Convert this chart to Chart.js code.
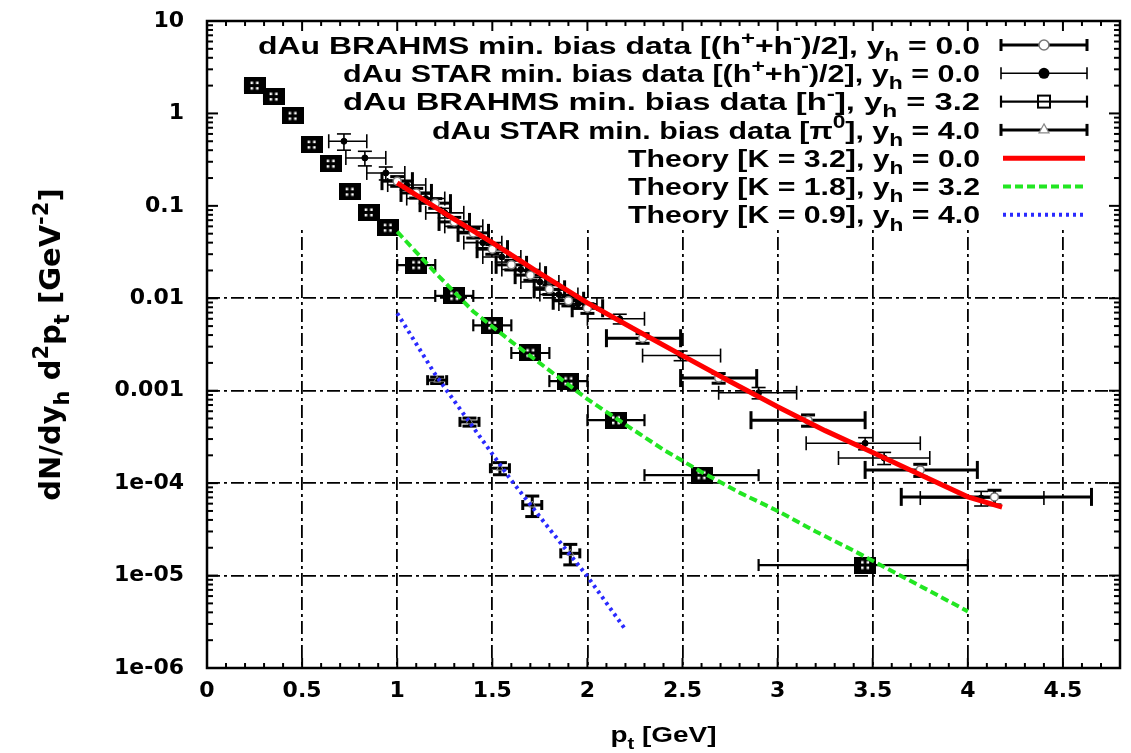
<!DOCTYPE html>
<html>
<head>
<meta charset="utf-8">
<title>dAu hadron spectra vs theory</title>
<script src="https://cdn.jsdelivr.net/npm/chart.js@4.4.1/dist/chart.umd.min.js"></script>
<style>
  html, body { margin: 0; padding: 0; background: #fff; }
  #wrap { width: 1131px; height: 753px; }
</style>
</head>
<body>
<div id="wrap"><canvas id="spectra" width="1131" height="753"></canvas></div>
<script>
// axis ticks
const X_TICKS = [0, 0.5, 1, 1.5, 2, 2.5, 3, 3.5, 4, 4.5];
const X_TICK_LABELS = ['0', '0.5', '1', '1.5', '2', '2.5', '3', '3.5', '4', '4.5'];
const Y_TICKS = [1e-6, 1e-5, 1e-4, 1e-3, 1e-2, 1e-1, 1, 10];
const Y_TICK_LABELS = ['1e-06', '1e-05', '1e-04', '0.001', '0.01', '0.1', '1', '10'];

// legend text (^{} superscript, _{} subscript)
const LEGEND_LABELS = [
  'dAu BRAHMS min. bias data [(h^{+}+h^{-})/2], y_{h} = 0.0',
  'dAu STAR min. bias data [(h^{+}+h^{-})/2], y_{h} = 0.0',
  'dAu BRAHMS min. bias data [h^{-}], y_{h} = 3.2',
  'dAu STAR min. bias data [π^{0}], y_{h} = 4.0',
  'Theory [K = 3.2], y_{h} = 0.0',
  'Theory [K = 1.8], y_{h} = 3.2',
  'Theory [K = 0.9], y_{h} = 4.0'
];
const X_TITLE = 'p_{t} [GeV]';
const Y_TITLE = 'dN/dy_{h} d^{2}p_{t} [GeV^{-2}]';

// BRAHMS (h+ + h-)/2, y = 0
const BRAHMS0_PT  = [1.0, 1.1, 1.2, 1.3, 1.4, 1.5, 1.6, 1.7, 1.8, 1.9, 2.0, 2.29, 2.69, 3.16, 3.75, 4.14];
const BRAHMS0_VAL = [0.185, 0.138, 0.107, 0.067, 0.051, 0.034, 0.023, 0.0178, 0.0125, 0.0094, 0.0078, 0.0037, 0.00137, 4.8e-4, 1.39e-4, 7.1e-5];
const BRAHMS0_LO  = [0.92, 1.02, 1.12, 1.22, 1.32, 1.42, 1.52, 1.62, 1.72, 1.82, 1.92, 2.10, 2.49, 2.86, 3.46, 3.65];
const BRAHMS0_HI  = [1.08, 1.18, 1.28, 1.38, 1.48, 1.58, 1.68, 1.78, 1.88, 1.98, 2.08, 2.49, 2.89, 3.46, 4.05, 4.65];
const BRAHMS0_REL = [0.12, 0.12, 0.12, 0.12, 0.12, 0.12, 0.12, 0.12, 0.12, 0.12, 0.12, 0.12, 0.12, 0.14, 0.15, 0.18];

// STAR (h+ + h-)/2, y = 0
const STAR0_PT  = [0.72, 0.83, 0.94, 1.05, 1.15, 1.25, 1.35, 1.45, 1.55, 1.65, 1.75, 1.85, 1.95, 2.17, 2.49, 2.90, 3.46, 3.56, 4.07];
const STAR0_VAL = [0.50, 0.33, 0.227, 0.168, 0.120, 0.084, 0.060, 0.040, 0.028, 0.0205, 0.0150, 0.0110, 0.0087, 0.0060, 0.0024, 9.5e-4, 2.7e-4, 1.87e-4, 6.9e-5];
const STAR0_LO  = [0.64, 0.73, 0.84, 0.95, 1.05, 1.15, 1.25, 1.35, 1.45, 1.55, 1.65, 1.75, 1.85, 2.00, 2.29, 2.69, 3.15, 3.32, 3.75];
const STAR0_HI  = [0.84, 0.94, 1.04, 1.15, 1.25, 1.35, 1.45, 1.55, 1.65, 1.75, 1.85, 1.95, 2.05, 2.30, 2.70, 3.10, 3.75, 3.80, 4.40];
const STAR0_REL = [0.2, 0.18, 0.16, 0.12, 0.12, 0.12, 0.12, 0.12, 0.12, 0.12, 0.12, 0.12, 0.12, 0.12, 0.12, 0.14, 0.15, 0.15, 0.18];

// BRAHMS h-, y = 3.2
const BRAHMS32_PT  = [0.25, 0.35, 0.45, 0.55, 0.65, 0.75, 0.85, 0.95, 1.1, 1.3, 1.5, 1.7, 1.9, 2.15, 2.6, 3.46];
const BRAHMS32_VAL = [2.0, 1.52, 0.94, 0.459, 0.286, 0.142, 0.085, 0.058, 0.0229, 0.0106, 0.0051, 0.00256, 0.00127, 4.8e-4, 1.22e-4, 1.3e-5];
const BRAHMS32_LO  = [0.2, 0.3, 0.4, 0.5, 0.6, 0.7, 0.8, 0.9, 1.0, 1.2, 1.4, 1.6, 1.8, 2.0, 2.3, 2.9];
const BRAHMS32_HI  = [0.3, 0.4, 0.5, 0.6, 0.7, 0.8, 0.9, 1.0, 1.2, 1.4, 1.6, 1.8, 2.0, 2.3, 2.9, 4.0];
const BRAHMS32_REL = [0.05, 0.05, 0.05, 0.05, 0.05, 0.05, 0.05, 0.05, 0.08, 0.08, 0.08, 0.08, 0.1, 0.1, 0.1, 0.12];

// STAR pi0, y = 4.0
const STAR40_PT  = [1.21, 1.38, 1.54, 1.71, 1.91];
const STAR40_VAL = [1.3e-3, 4.6e-4, 1.45e-4, 5.8e-5, 1.74e-5];
const STAR40_LO  = [1.16, 1.33, 1.49, 1.66, 1.86];
const STAR40_HI  = [1.26, 1.43, 1.59, 1.76, 1.96];
const STAR40_REL = [0.08, 0.1, 0.15, 0.25, 0.25];

// theory curves
const TH32_PT  = [1.0, 1.25, 1.5, 1.75, 2.0, 2.25, 2.5, 2.75, 3.0, 3.25, 3.5, 3.75, 4.0, 4.18];
const TH32_VAL = [0.177, 0.083, 0.040, 0.0186, 0.0089, 0.0046, 0.0024, 0.00126, 6.7e-4, 3.7e-4, 2.14e-4, 1.23e-4, 7.1e-5, 5.5e-5];
const TH18_PT  = [1.0, 1.2, 1.4, 1.6, 1.8, 2.0, 2.2, 2.4, 2.6, 2.8, 3.0, 3.2, 3.4, 3.6, 3.8, 4.0];
const TH18_VAL = [0.0525, 0.019, 0.0072, 0.0034, 0.00166, 8.1e-4, 4.3e-4, 2.3e-4, 1.32e-4, 7.9e-5, 5.0e-5, 3.0e-5, 1.86e-5, 1.12e-5, 6.8e-6, 4.1e-6];
const TH09_PT  = [1.0, 1.2, 1.4, 1.6, 1.8, 2.0, 2.2];
const TH09_VAL = [0.0069, 0.0015, 4.0e-4, 1.07e-4, 3.2e-5, 9.8e-6, 2.6e-6];

const WIDE = '"DejaVu Sans", sans-serif';
const HELV = '"Liberation Sans", Arial, sans-serif';
// left edge of each key line in the original layout (text is fitted to it)
const KEY_LEFT = [258, 343, 343, 432, 628, 628, 628];

function pts(xs, ys) {
  return xs.map((x, i) => ({ x: x, y: ys[i] }));
}
function plain(s) {
  return s.replace(/[_^]\{([^}]*)\}/g, '$1');
}

// big open square of the h- data as it looks in the plot
function squareMark() {
  const c = document.createElement('canvas');
  c.width = 22; c.height = 17;
  const g = c.getContext('2d');
  g.fillStyle = '#000';
  g.fillRect(0, 0, 22, 17);
  g.fillStyle = '#fff';
  [[7, 4.5], [12.5, 4.5], [7, 10], [12.5, 10]].forEach(p => g.fillRect(p[0], p[1], 2.5, 2.5));
  return c;
}

function parseRich(s) {
  const out = [];
  const re = /([_^])\{([^}]*)\}|([^_^]+)/g;
  let m;
  while ((m = re.exec(s))) {
    if (m[3]) out.push({ t: m[3], k: 0 });
    else out.push({ t: m[2], k: m[1] === '^' ? 1 : -1 });
  }
  return out;
}
// text with sub/superscripts, centred vertically on y; sx stretches in x,
// or when fit is given the text is stretched to that width
function drawRich(ctx, s, x, y, size, align, family, sx, fit) {
  const segs = parseRich(s);
  const small = Math.round(size * 0.74);
  const fontOf = k => 'bold ' + (k ? small : size) + 'px ' + family;
  let w = 0;
  segs.forEach(g => { ctx.font = fontOf(g.k); g.w = ctx.measureText(g.t).width; w += g.w; });
  if (fit) sx = fit / w;
  const start = align === 'right' ? x - w * sx : (align === 'center' ? x - w * sx / 2 : x);
  ctx.save();
  ctx.translate(start, y);
  ctx.scale(sx, 1);
  ctx.textAlign = 'left';
  ctx.textBaseline = 'alphabetic';
  let cx = 0;
  segs.forEach(g => {
    ctx.font = fontOf(g.k);
    const dy = g.k > 0 ? -size * 0.42 : (g.k < 0 ? size * 0.3 : 0);
    ctx.fillText(g.t, cx, size * 0.36 + dy);
    cx += g.w;
  });
  ctx.restore();
}

function seg(ctx, x1, y1, x2, y2) {
  ctx.beginPath();
  ctx.moveTo(x1, y1);
  ctx.lineTo(x2, y2);
  ctx.stroke();
}

// gnuplot-like frame, inward ticks, opaque key box, error bars, key and titles
const gnuplotLook = {
  id: 'gnuplotLook',
  beforeDatasetsDraw(chart) {
    const { ctx, chartArea: a, scales: { x, y } } = chart;
    ctx.save();
    ctx.fillStyle = '#fff';
    ctx.fillRect(a.left, a.top, a.right - a.left, 229 - a.top);

    ctx.strokeStyle = '#000';
    ctx.lineWidth = 2.5;
    ctx.strokeRect(a.left, a.top, a.right - a.left, a.bottom - a.top);

    // x ticks (major and 0.1 minor) on bottom and top
    ctx.lineWidth = 2;
    for (let k = 1; k < 48; k++) {
      const v = k / 10;
      const major = X_TICKS.indexOf(v) >= 0;
      const len = major ? 10 : 5;
      const px = x.getPixelForValue(v);
      seg(ctx, px, a.bottom, px, a.bottom - len);
      seg(ctx, px, a.top, px, a.top + len);
    }
    // y ticks (decades and 2..9 minor) on left and right
    for (let d = -6; d <= 0; d++) {
      for (let m = 1; m <= 9; m++) {
        const v = m * Math.pow(10, d);
        const py = y.getPixelForValue(v);
        const len = m === 1 ? 11 : 6;
        seg(ctx, a.left, py, a.left + len, py);
        seg(ctx, a.right, py, a.right - len, py);
      }
    }

    // error bars
    ctx.beginPath();
    ctx.rect(a.left, a.top, a.right - a.left, a.bottom - a.top);
    ctx.clip();
    chart.data.datasets.forEach((ds, i) => {
      if (!ds.errLo || !chart.isDatasetVisible(i)) return;
      ctx.strokeStyle = '#000';
      ctx.lineWidth = ds.errWidth;
      ds.data.forEach((p, j) => {
        const px = x.getPixelForValue(p.x);
        const py = y.getPixelForValue(p.y);
        const x1 = x.getPixelForValue(ds.errLo[j]);
        const x2 = x.getPixelForValue(ds.errHi[j]);
        const y1 = y.getPixelForValue(p.y * (1 + ds.errRel[j]));
        const y2 = y.getPixelForValue(p.y * (1 - ds.errRel[j]));
        seg(ctx, x1, py, x2, py);
        seg(ctx, x1, py - ds.errCap, x1, py + ds.errCap);
        seg(ctx, x2, py - ds.errCap, x2, py + ds.errCap);
        seg(ctx, px, y1, px, y2);
        seg(ctx, px - 7, y1, px + 7, y1);
        seg(ctx, px - 7, y2, px + 7, y2);
      });
    });
    ctx.restore();
  },
  afterDraw(chart) {
    const { ctx, chartArea: a } = chart;
    ctx.save();
    ctx.fillStyle = '#000';
    // key
    chart.data.datasets.forEach((ds, i) => {
      const ry = 45 + i * 28.3;
      drawRich(ctx, LEGEND_LABELS[i], 980, ry, 24, 'right', HELV, 1, 980 - KEY_LEFT[i]);
      const x1 = 1001, x2 = 1087, xm = 1044;
      ctx.setLineDash(ds.borderDash || []);
      if (ds.errLo) {
        ctx.strokeStyle = '#000';
        ctx.lineWidth = ds.errWidth;
        seg(ctx, x1, ry, x2, ry);
        seg(ctx, x1, ry - 6, x1, ry + 6);
        seg(ctx, x2, ry - 6, x2, ry + 6);
        ctx.lineWidth = 1.5;
        if (i === 0) {
          ctx.strokeStyle = '#777'; ctx.fillStyle = '#fff';
          ctx.beginPath(); ctx.arc(xm, ry, 5, 0, Math.PI * 2); ctx.fill(); ctx.stroke();
        } else if (i === 1) {
          ctx.fillStyle = '#000';
          ctx.beginPath(); ctx.arc(xm, ry, 5.5, 0, Math.PI * 2); ctx.fill();
        } else if (i === 2) {
          ctx.strokeStyle = '#000'; ctx.fillStyle = '#fff'; ctx.lineWidth = 2;
          ctx.fillRect(xm - 6, ry - 6, 12, 12); ctx.strokeRect(xm - 6, ry - 6, 12, 12);
          seg(ctx, xm - 6, ry, xm + 6, ry);
        } else {
          ctx.strokeStyle = '#888'; ctx.fillStyle = '#fff'; ctx.lineWidth = 1.2;
          ctx.beginPath(); ctx.moveTo(xm, ry - 6); ctx.lineTo(xm + 5, ry + 3); ctx.lineTo(xm - 5, ry + 3); ctx.closePath();
          ctx.fill(); ctx.stroke();
        }
        ctx.fillStyle = '#000';
      } else {
        ctx.strokeStyle = ds.borderColor;
        ctx.lineWidth = ds.borderWidth;
        seg(ctx, x1 + 2, ry, x2 - 2, ry);
      }
      ctx.setLineDash([]);
    });
    // axis titles
    drawRich(ctx, X_TITLE, (a.left + a.right) / 2, 734, 22, 'center', HELV, 1.27);
    ctx.translate(50, (a.top + a.bottom) / 2);
    ctx.rotate(-Math.PI / 2);
    drawRich(ctx, Y_TITLE, 0, 0, 29, 'center', WIDE, 1);
    ctx.restore();
  }
};

const tickFont = { family: WIDE, weight: 'bold', size: 22 };

new Chart(document.getElementById('spectra'), {
  type: 'scatter',
  data: {
    datasets: [
      {
        label: plain(LEGEND_LABELS[0]),
        data: pts(BRAHMS0_PT, BRAHMS0_VAL),
        errLo: BRAHMS0_LO, errHi: BRAHMS0_HI, errRel: BRAHMS0_REL, errWidth: 3, errCap: 9,
        pointStyle: 'circle', pointRadius: 4, borderColor: '#777', backgroundColor: '#fff', borderWidth: 1.5,
        order: 2
      },
      {
        label: plain(LEGEND_LABELS[1]),
        data: pts(STAR0_PT, STAR0_VAL),
        errLo: STAR0_LO, errHi: STAR0_HI, errRel: STAR0_REL, errWidth: 1.6, errCap: 7,
        pointStyle: 'circle', pointRadius: 3, borderColor: '#000', backgroundColor: '#000', borderWidth: 1,
        order: 2
      },
      {
        label: plain(LEGEND_LABELS[2]),
        data: pts(BRAHMS32_PT, BRAHMS32_VAL),
        errLo: BRAHMS32_LO, errHi: BRAHMS32_HI, errRel: BRAHMS32_REL, errWidth: 2.2, errCap: 6,
        pointStyle: squareMark(), pointRadius: 10,
        order: 2
      },
      {
        label: plain(LEGEND_LABELS[3]),
        data: pts(STAR40_PT, STAR40_VAL),
        errLo: STAR40_LO, errHi: STAR40_HI, errRel: STAR40_REL, errWidth: 3, errCap: 5,
        pointStyle: 'triangle', pointRadius: 4, borderColor: '#888', backgroundColor: 'rgba(255,255,255,0)', borderWidth: 1,
        order: 2
      },
      {
        label: plain(LEGEND_LABELS[4]),
        data: pts(TH32_PT, TH32_VAL),
        showLine: true, pointRadius: 0, borderColor: '#ff0000', borderWidth: 5,
        order: 1
      },
      {
        label: plain(LEGEND_LABELS[5]),
        data: pts(TH18_PT, TH18_VAL),
        showLine: true, pointRadius: 0, borderColor: '#22e622', borderWidth: 4, borderDash: [8, 4],
        order: 1
      },
      {
        label: plain(LEGEND_LABELS[6]),
        data: pts(TH09_PT, TH09_VAL),
        showLine: true, pointRadius: 0, borderColor: '#2a2aff', borderWidth: 4, borderDash: [3, 4],
        order: 1
      }
    ]
  },
  options: {
    responsive: false,
    animation: false,
    layout: { padding: { top: 21, right: 8, left: 0, bottom: 0 } },
    plugins: { legend: { display: false }, tooltip: { enabled: false } },
    scales: {
      x: {
        type: 'linear',
        min: 0,
        max: 4.8,
        afterBuildTicks: s => { s.ticks = X_TICKS.map(v => ({ value: v })); },
        afterFit: s => { s.height = 85; s.paddingLeft = 0; s.paddingRight = 0; },
        ticks: {
          font: tickFont, color: '#000', padding: 10, maxRotation: 0, autoSkip: false,
          callback: (v, i) => X_TICK_LABELS[i]
        },
        grid: { color: '#000', lineWidth: 1.8, drawTicks: false },
        border: { display: false, dash: [13, 4, 3, 4] }
      },
      y: {
        type: 'logarithmic',
        min: 1e-6,
        max: 10,
        afterBuildTicks: s => { s.ticks = Y_TICKS.map(v => ({ value: v })); },
        afterFit: s => { s.width = 207; s.paddingTop = 0; s.paddingBottom = 0; },
        ticks: {
          font: tickFont, color: '#000', padding: 23, autoSkip: false,
          callback: (v, i) => Y_TICK_LABELS[i]
        },
        grid: { color: '#000', lineWidth: 1.8, drawTicks: false },
        border: { display: false, dash: [13, 4, 3, 4] }
      }
    }
  },
  plugins: [gnuplotLook]
});
</script>
</body>
</html>
